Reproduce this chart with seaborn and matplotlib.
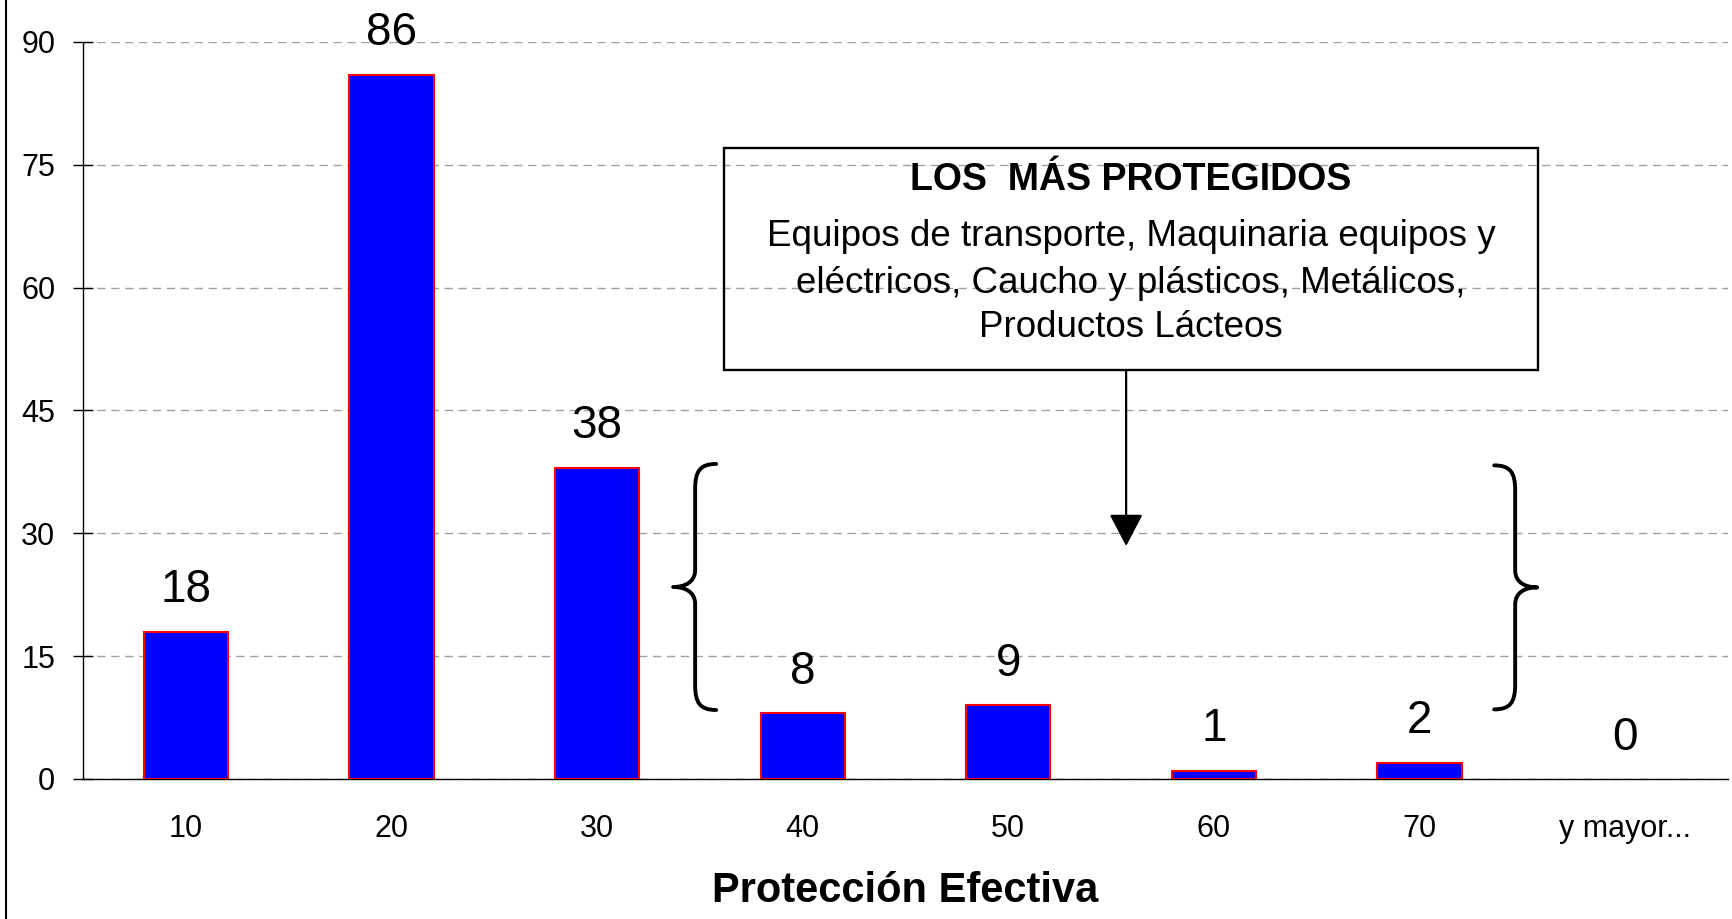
import matplotlib
matplotlib.use("Agg")
import matplotlib.pyplot as plt
import seaborn as sns
import pandas as pd
from matplotlib.path import Path
from matplotlib.patches import PathPatch, Rectangle
from matplotlib.lines import Line2D

# ---- data ----
categories = ["10", "20", "30", "40", "50", "60", "70", "y mayor..."]
counts = [18, 86, 38, 8, 9, 1, 2, 0]
y_ticks = [0, 15, 30, 45, 60, 75, 90]
x_label = "Protección Efectiva"
box_title = "LOS  MÁS PROTEGIDOS"
box_lines = ["Equipos de transporte, Maquinaria equipos y",
             "eléctricos, Caucho y plásticos, Metálicos,",
             "Productos Lácteos"]

sns.set_style("white")
plt.rcParams['font.family'] = ['Liberation Sans', 'DejaVu Sans']
plt.rcParams.update({"text.color": "black", "axes.labelcolor": "black",
                     "xtick.color": "black", "ytick.color": "black"})

W, H = 1733, 919
fig = plt.figure(figsize=(W / 100, H / 100), dpi=100)
ax = fig.add_axes([83 / W, 140 / H, 1645 / W, 737 / H])

df = pd.DataFrame({"cat": categories, "n": counts})
sns.barplot(data=df, x="cat", y="n", color="#0000FF", saturation=1,
            edgecolor="#FF0000", linewidth=1.5, width=0.41, ax=ax, zorder=3)
for p in ax.patches:
    if p.get_height() == 0:
        p.set_linewidth(0)

ax.bar_label(ax.containers[0], labels=[str(v) for v in counts],
             padding=14, fontsize=33, color="black")

# axes styling
ax.set_xlim(-0.5, len(categories) - 0.5)
ax.set_ylim(0, 90)
ax.set_yticks(y_ticks)
ax.set_axisbelow(True)
ax.yaxis.grid(True, color="#a0a0a0", linestyle=(0, (6, 4)), linewidth=1)
ax.xaxis.grid(False)
for s in ["top", "right"]:
    ax.spines[s].set_visible(False)
for s in ["left", "bottom"]:
    ax.spines[s].set_color("black")
    ax.spines[s].set_linewidth(1)

ax.set_xticks([i - 0.5 for i in range(len(categories) + 1)], minor=True)
ax.tick_params(axis="x", which="major", length=0, labelsize=22, pad=25,
               labelcolor="black")
ax.tick_params(axis="x", which="minor", direction="inout", length=15, width=1, color="black")
ax.tick_params(axis="y", direction="inout", length=15, width=1, color="black",
               labelsize=22, pad=12.5, left=True, labelcolor="black")
ax.set_ylabel("")
ax.set_xlabel(x_label, fontsize=30, fontweight="bold", va="top", color="black")
ax.xaxis.set_label_coords(0.5, -0.125)

# annotation box
bx0, bx1, by0, by1 = 2.618, 6.577, 49.94, 77.05
ax.add_patch(Rectangle((bx0, by0), bx1 - bx0, by1 - by0, fill=False,
                       edgecolor="black", linewidth=1.7, zorder=5, clip_on=False))
cx = (bx0 + bx1) / 2
ax.text(cx, 71.93, box_title, ha="center", va="baseline", fontsize=27,
        fontweight="bold", zorder=6, color="black")
for yb, line in zip([65.09, 59.35, 53.97], box_lines):
    ax.text(cx, yb, line, ha="center", va="baseline", fontsize=26.5, zorder=6,
            color="black")

ax.annotate("", xy=(4.573, 28.45), xytext=(4.573, by0),
            arrowprops=dict(arrowstyle="-|>,head_length=0.8,head_width=0.42",
                            mutation_scale=25, color="black", lw=1.6,
                            shrinkA=0, shrinkB=0), zorder=6)

# braces
PXX = 1645 / 8
PXY = 737 / 90


def brace(x_tip, y_mid, hh, d):
    def P(dx, dy):
        return (x_tip + d * dx / PXX, y_mid + dy / PXY)
    verts = [P(43, hh), P(27, hh), P(22, hh - 7), P(22, hh - 25),
             P(22, 17),
             P(22, 5), P(12, 0), P(0, 0),
             P(12, 0), P(22, -5), P(22, -17),
             P(22, -(hh - 25)),
             P(22, -(hh - 7)), P(27, -hh), P(43, -hh)]
    codes = [Path.MOVETO, Path.CURVE4, Path.CURVE4, Path.CURVE4,
             Path.LINETO,
             Path.CURVE4, Path.CURVE4, Path.CURVE4,
             Path.CURVE4, Path.CURVE4, Path.CURVE4,
             Path.LINETO,
             Path.CURVE4, Path.CURVE4, Path.CURVE4]
    ax.add_patch(PathPatch(Path(verts, codes), fill=False, edgecolor="black",
                           linewidth=2.8, zorder=6, clip_on=False,
                           capstyle="round", joinstyle="round"))


brace(2.370, 23.45, 123, 1)
brace(6.572, 23.40, 122, -1)

# left frame line of the chart area
fig.add_artist(Line2D([6 / W, 6 / W], [0, 1], transform=fig.transFigure,
                      color="black", linewidth=1.5))

fig.savefig("out.png", dpi=100)
